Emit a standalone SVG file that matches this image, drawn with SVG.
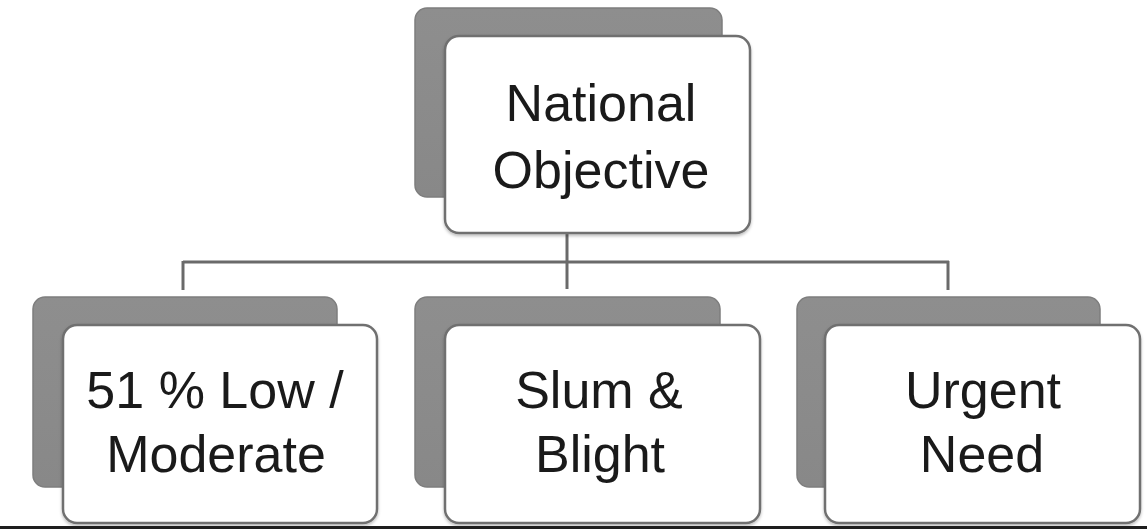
<svg xmlns="http://www.w3.org/2000/svg" width="1147" height="529" viewBox="0 0 1147 529">
  <defs>
    <linearGradient id="backGrad" x1="0" y1="0" x2="0" y2="1">
      <stop offset="0" stop-color="#8e8e8e"/>
      <stop offset="1" stop-color="#888888"/>
    </linearGradient>
    <filter id="sh" x="-5%" y="-5%" width="110%" height="115%">
      <feDropShadow dx="0" dy="2" stdDeviation="1.5" flood-color="#000" flood-opacity="0.25"/>
    </filter>
  </defs>
  <style>
    .back { fill: url(#backGrad); stroke: #7e7e7e; stroke-width: 1.5; }
    .front { fill: #ffffff; stroke: #707070; stroke-width: 2.5; filter: url(#sh); }
    .label { font-family: "Liberation Sans", Arial, sans-serif; font-size: 52px; fill: #1a1a1a; text-anchor: middle; }
    .conn { stroke: #6a6a6a; stroke-width: 3; fill: none; }
  </style>
  <rect width="1147" height="529" fill="#ffffff"/>

  <g id="connectors">
    <line class="conn" x1="567" y1="233" x2="567" y2="262"/>
    <line class="conn" x1="183" y1="262" x2="949" y2="262"/>
    <line class="conn" x1="183" y1="261" x2="183" y2="290"/>
    <line class="conn" x1="567" y1="262" x2="567" y2="289"/>
    <line class="conn" x1="948" y1="261" x2="948" y2="290"/>
  </g>

  <g id="node-national">
    <rect class="back" x="415" y="8" width="307" height="189" rx="12"/>
    <rect class="front" x="445" y="36" width="305" height="197" rx="14"/>
    <text class="label" x="601" y="121">National</text>
    <text class="label" x="601" y="188">Objective</text>
  </g>

  <g id="node-lowmod">
    <rect class="back" x="33" y="297" width="304" height="190" rx="12"/>
    <rect class="front" x="63" y="325" width="314" height="198" rx="14"/>
    <text class="label" x="215" y="408">51 % Low /</text>
    <text class="label" x="216" y="472">Moderate</text>
  </g>

  <g id="node-slum">
    <rect class="back" x="415" y="297" width="305" height="190" rx="12"/>
    <rect class="front" x="445" y="325" width="315" height="198" rx="14"/>
    <text class="label" x="599" y="408">Slum &amp;</text>
    <text class="label" x="600" y="472">Blight</text>
  </g>

  <g id="node-urgent">
    <rect class="back" x="797" y="297" width="303" height="190" rx="12"/>
    <rect class="front" x="825" y="325" width="315" height="198" rx="14"/>
    <text class="label" x="983" y="408">Urgent</text>
    <text class="label" x="982" y="472">Need</text>
  </g>

  <rect x="0" y="526" width="1147" height="3" fill="#1e1e1e"/>
</svg>
